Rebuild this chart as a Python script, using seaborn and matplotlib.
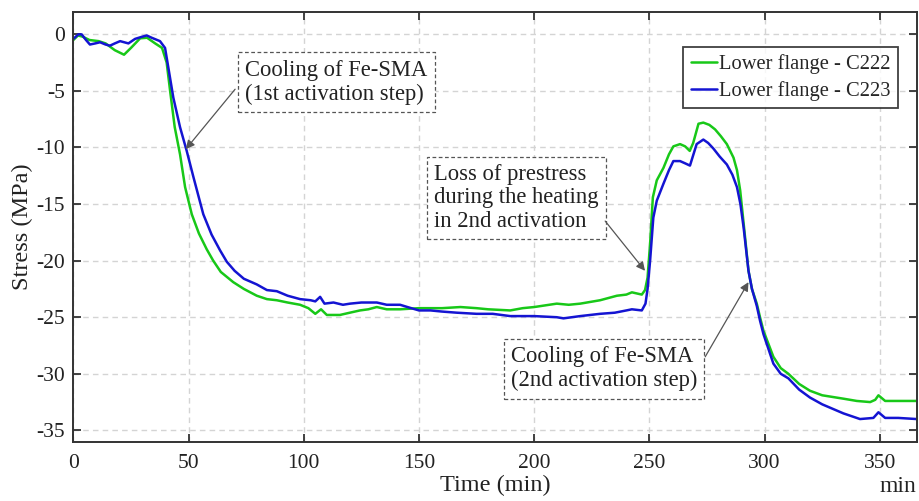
import numpy as np
import pandas as pd
import seaborn as sns
import matplotlib
matplotlib.use("Agg")
import matplotlib.pyplot as plt

# ---------------- data ----------------
t_c222 = [0, 2, 4, 7, 11, 14, 18, 22, 25, 29, 32, 35.5, 38.5, 40.5, 42, 44, 46.3, 48.5,
          51.4, 54.5, 57.9, 60.7, 64, 69.4, 74, 79.6, 84, 88.3, 93, 98.4, 102, 105, 107.5,
          110, 115.7, 120, 124.4, 128, 131.7, 136, 141.8, 150, 160, 168, 175, 180, 189.6,
          195, 200, 209.8, 215, 220, 228.6, 235.9, 240, 242.4, 246.7, 248.1, 249.2, 250.3,
          251.5, 253.2, 256.1, 258.5, 260.4, 263.3, 265.5, 267.5, 269, 271.3, 273.4, 276,
          278.5, 281, 283.6, 286.5, 288, 289.4, 291.5, 293, 294.5, 296.6, 298, 299.5, 303.8,
          307, 310.3, 315, 319.7, 325, 334.2, 340, 345.8, 348, 349.4, 352.3, 358, 366]
s_c222 = [-0.5, -0.1, -0.2, -0.5, -0.6, -0.8, -1.4, -1.8, -1.2, -0.35, -0.3, -0.8, -1.2, -2.5,
          -5.0, -8.2, -10.6, -13.5, -15.9, -17.6, -19.0, -20.0, -21.0, -21.9, -22.5, -23.1,
          -23.4, -23.5, -23.7, -23.9, -24.2, -24.7, -24.3, -24.8, -24.8, -24.6, -24.4, -24.3,
          -24.1, -24.3, -24.3, -24.2, -24.2, -24.1, -24.2, -24.3, -24.4, -24.2, -24.1, -23.8,
          -23.9, -23.8, -23.5, -23.1, -23.0, -22.8, -23.0, -22.6, -21.5, -18.5, -14.4, -12.9,
          -11.8, -10.6, -9.9, -9.7, -9.9, -10.3, -9.6, -7.9, -7.8, -8.0, -8.4, -9.0, -9.7,
          -10.9, -12.0, -13.8, -17.9, -20.9, -22.5, -23.8, -25.0, -26.2, -28.5, -29.5, -30.0,
          -30.9, -31.5, -31.9, -32.2, -32.4, -32.5, -32.3, -31.9, -32.4, -32.4, -32.4]

t_c223 = [0, 2.2, 3.6, 5.5, 7.2, 9.5, 11.6, 14, 15.9, 18, 20.3, 23.9, 26.8, 30, 31.9, 34,
          37.6, 39.8, 41.2, 43.4, 46.3, 49.2, 52.1, 56.4, 60, 63.7, 66.6, 70, 74, 79.6, 84,
          88.3, 93, 98.4, 103, 105, 107.1, 109, 112.9, 117, 120.1, 125, 131.7, 136, 141.8,
          145, 150, 155, 160, 166.4, 175, 182, 189.6, 195, 200, 209.8, 212.7, 220, 228.6, 235,
          240, 242.4, 246.7, 248.3, 249.2, 250.3, 251.7, 253.2, 256.1, 258.5, 260.4, 263.3,
          265.5, 267.6, 270.5, 273.4, 275.5, 277.8, 280.5, 283.6, 286, 288, 289.5, 290.9, 293,
          294.5, 296.6, 298, 299.5, 303.8, 307, 310.3, 315, 319.7, 325, 334.2, 341.4, 347.2,
          349.4, 352.3, 358, 366]
s_c223 = [-0.4, 0.0, 0.0, -0.5, -0.9, -0.8, -0.7, -0.9, -1.0, -0.8, -0.6, -0.8, -0.4, -0.2,
          -0.1, -0.3, -0.6, -1.2, -2.9, -5.6, -8.2, -10.3, -12.6, -15.9, -17.7, -19.1, -20.1,
          -20.9, -21.6, -22.1, -22.6, -22.7, -23.1, -23.4, -23.5, -23.6, -23.2, -23.8, -23.7,
          -23.9, -23.8, -23.7, -23.7, -23.9, -23.9, -24.1, -24.4, -24.4, -24.5, -24.6, -24.7,
          -24.7, -24.9, -24.9, -24.9, -25.0, -25.1, -24.9, -24.7, -24.6, -24.4, -24.3, -24.4,
          -23.8, -22.5, -20.0, -16.2, -14.7, -13.2, -12.0, -11.2, -11.2, -11.4, -11.6, -9.7,
          -9.3, -9.6, -10.1, -10.8, -11.5, -12.4, -13.5, -15.0, -17.1, -20.9, -22.5, -24.0,
          -25.3, -26.5, -29.1, -30.0, -30.4, -31.4, -32.1, -32.7, -33.5, -34.0, -33.9, -33.4,
          -33.9, -33.9, -34.0]

series_names = ["Lower flange - C222", "Lower flange - C223"]
series_colors = ["#18c818", "#1414d2"]

x_ticks = [0, 50, 100, 150, 200, 250, 300, 350]
y_ticks = [0, -5, -10, -15, -20, -25, -30, -35]

df = pd.concat([
    pd.DataFrame({"Time": t_c222, "Stress": s_c222, "Series": series_names[0]}),
    pd.DataFrame({"Time": t_c223, "Stress": s_c223, "Series": series_names[1]}),
], ignore_index=True)

# ---------------- style ----------------
sns.set_theme(style="white")
plt.rcParams["font.family"] = ["Liberation Serif", "DejaVu Serif"]
FS = 15.5
AFS = 16.3

fig = plt.figure(figsize=(9.19, 5.01), dpi=100)
ax = fig.add_axes([0.0798, 0.1184, 0.9177, 0.8582])

sns.lineplot(data=df, x="Time", y="Stress", hue="Series",
             palette=dict(zip(series_names, series_colors)),
             linewidth=1.8, ax=ax, estimator=None, sort=False)

ax.set_xlim(0, 366)
ax.set_ylim(-36, 2)
ax.set_xticks(x_ticks)
ax.set_yticks(y_ticks)
ax.set_xticklabels([str(v) for v in x_ticks])
ax.set_yticklabels([str(v) for v in y_ticks])

ax.grid(True, linestyle=(0, (4, 3)), color="#d4d4d4", linewidth=1.0)
ax.set_axisbelow(True)
for sp in ax.spines.values():
    sp.set_visible(True)
    sp.set_color("#333333")
    sp.set_linewidth(1.4)

ax.tick_params(axis="both", which="both", direction="in", length=6, width=1.3,
               color="#333333", top=True, right=True, bottom=True, left=True,
               labelsize=FS, labelcolor="#222222")
ax.tick_params(axis="x", pad=9)
ax.tick_params(axis="y", pad=6)

ax.set_xlabel("Time (min)", fontsize=17.5, color="#222222", labelpad=1)
ax.set_ylabel("Stress (MPa)", fontsize=17.5, color="#222222", labelpad=2)
fig.text(0.997, 1 - 486 / 501, "min", ha="right", va="center", fontsize=17, color="#222222")

leg = ax.legend(loc="upper right", bbox_to_anchor=(0.978, 0.9186), borderaxespad=0,
                fontsize=14.8, frameon=True, fancybox=False, handlelength=1.3,
                handletextpad=0.1, borderpad=0.35, labelspacing=0.35)
leg.get_frame().set_edgecolor("#111111")
leg.get_frame().set_linewidth(1.3)
leg.set_title(None)
for h in leg.get_lines():
    h.set_linewidth(1.8)

box = dict(boxstyle="square,pad=0.32", facecolor="white", edgecolor="#555555",
           linestyle=(0, (3, 2)), linewidth=0.9)
arrow = dict(arrowstyle="-|>", color="#555555", lw=0.9, mutation_scale=13,
             shrinkA=0, shrinkB=0)

ax.text(114.2, -4.25, "Cooling of Fe-SMA\n(1st activation step)", ha="center", va="center",
        multialignment="left", fontsize=AFS, color="#222222", bbox=box, linespacing=1.2)
ax.annotate("", xy=(48.8, -10.15), xytext=(70.2, -4.85), arrowprops=arrow)

ax.text(192.3, -14.45, "Loss of prestress\nduring the heating\nin 2nd activation",
        ha="center", va="center", multialignment="left", fontsize=AFS, color="#222222",
        bbox=box, linespacing=1.15)
ax.annotate("", xy=(248.1, -20.9), xytext=(230.8, -16.5), arrowprops=arrow)

ax.text(230.3, -29.55, "Cooling of Fe-SMA\n(2nd activation step)", ha="center", va="center",
        multialignment="left", fontsize=AFS, color="#222222", bbox=box, linespacing=1.2)
ax.annotate("", xy=(293.0, -21.9), xytext=(274.2, -28.5), arrowprops=arrow)

fig.savefig("out.png", dpi=100)
